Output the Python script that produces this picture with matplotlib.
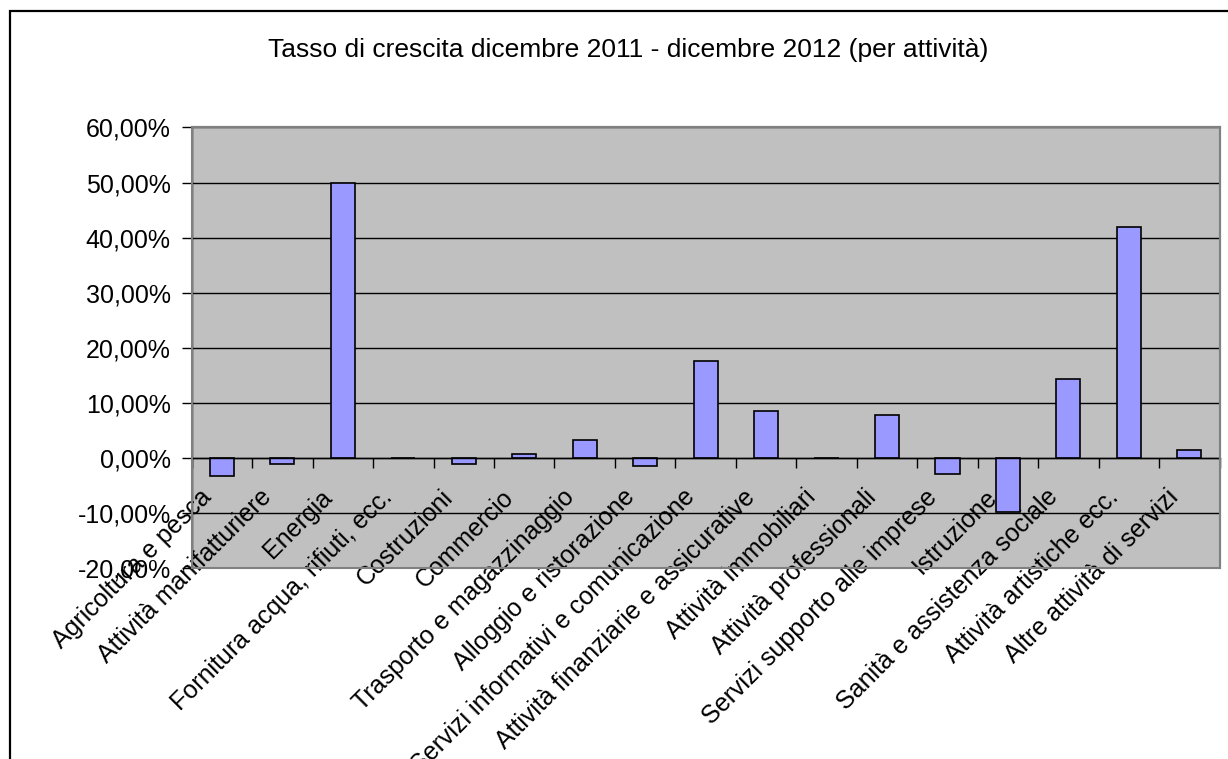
import matplotlib
matplotlib.use('Agg')
import matplotlib.pyplot as plt
import matplotlib.transforms as mtransforms
from matplotlib.patches import Rectangle
from matplotlib.ticker import FuncFormatter, MultipleLocator
import numpy as np

matplotlib.rcParams['font.family'] = ['Liberation Sans', 'DejaVu Sans']

# dati
attivita = [
    'Agricoltura e pesca', 'Attività manifatturiere', 'Energia',
    'Fornitura acqua, rifiuti, ecc.', 'Costruzioni', 'Commercio',
    'Trasporto e magazzinaggio', 'Alloggio e ristorazione',
    'Servizi informativi e comunicazione', 'Attività finanziarie e assicurative',
    'Attività immobiliari', 'Attività professionali',
    'Servizi supporto alle imprese', 'Istruzione',
    'Sanità e assistenza sociale', 'Attività artistiche ecc.',
    'Altre attività di servizi',
]
tasso = [-3.3, -1.15, 50.0, 0.0, -1.15, 0.75, 3.2, -1.5, 17.6, 8.6,
         0.0, 7.85, -2.9, -9.8, 14.4, 42.0, 1.4]
titolo = 'Tasso di crescita dicembre 2011 - dicembre 2012 (per attività)'

W, H = 1228, 759
fig = plt.figure(figsize=(W / 100, H / 100), dpi=100)

# cornice esterna del grafico (esce dall'immagine a destra e in basso)
fig.patches.append(Rectangle((10 / W, -0.2), 1.2, 1 - 11 / H + 0.2,
                             transform=fig.transFigure, fill=False,
                             edgecolor='black', linewidth=1.6))

ax = fig.add_axes([191.7 / W, 1 - 568 / H, (1219.5 - 191.7) / W, (568 - 127.5) / H])
ax.set_facecolor('#C0C0C0')

x = np.arange(len(attivita))
ax.bar(x, tasso, width=0.4, color='#9999FF', edgecolor='black', linewidth=1.2, zorder=3)

ax.set_xlim(-0.5, len(attivita) - 0.5)
ax.set_ylim(-20, 60)
ax.yaxis.set_major_locator(MultipleLocator(10))
ax.yaxis.set_major_formatter(FuncFormatter(lambda v, p: f'{v:.2f}%'.replace('.', ',')))
ax.grid(axis='y', color='black', linewidth=1.0, zorder=1)
ax.set_axisbelow(True)

for s in ['top', 'right', 'left']:
    ax.spines[s].set_color('#808080')
    ax.spines[s].set_linewidth(1.5)
ax.spines['left'].set_color('black')
ax.spines['left'].set_linewidth(1.0)
ax.spines['bottom'].set_position(('data', 0))
ax.spines['bottom'].set_color('black')
ax.spines['bottom'].set_linewidth(1.0)
ax.spines['bottom'].set_zorder(4)

# riquadro grigio dell'area del grafico
ax.add_patch(Rectangle((0, 0), 1, 1, transform=ax.transAxes, fill=False,
                       edgecolor='#808080', linewidth=1.5, zorder=5, clip_on=False))

ax.tick_params(axis='y', length=7, width=1, labelsize=18, pad=8)
ax.set_xticks(x)
ax.set_xticks(np.arange(len(attivita) + 1) - 0.5, minor=True)
ax.tick_params(axis='x', which='minor', length=7, width=1, direction='out')
ax.tick_params(axis='x', which='major', length=0, pad=19.5)
ax.set_xticklabels(attivita, rotation=45, ha='right', va='top',
                   rotation_mode='anchor', fontsize=18)
off = mtransforms.ScaledTranslation(-23 / 100, 0, fig.dpi_scale_trans)
for lab in ax.get_xticklabels():
    lab.set_transform(lab.get_transform() + off)

fig.text(628.5 / W, 1 - 57 / H, titolo, ha='center', va='baseline', fontsize=19)

fig.savefig('out.png', dpi=100)
